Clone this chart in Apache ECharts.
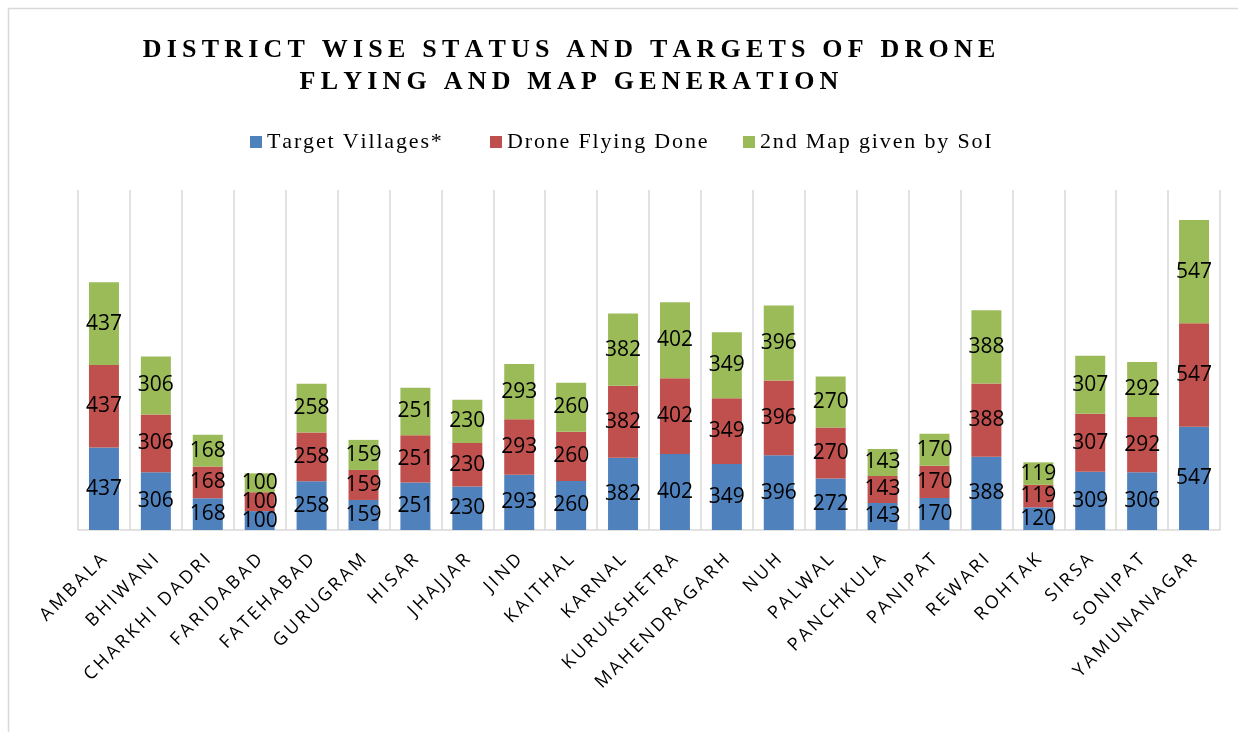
<!DOCTYPE html>
<html>
<head>
<meta charset="utf-8">
<title>District wise status</title>
<script src="https://cdn.jsdelivr.net/npm/echarts@6/dist/echarts.min.js"></script>
<style>
  html, body { margin: 0; padding: 0; background: #fff; }
  #chart { width: 1238px; height: 732px; }
</style>
</head>
<body>
<div id="chart"></div>
<script>
// districts (x axis)
var districts = ['AMBALA', 'BHIWANI', 'CHARKHI DADRI', 'FARIDABAD', 'FATEHABAD', 'GURUGRAM', 'HISAR',
  'JHAJJAR', 'JIND', 'KAITHAL', 'KARNAL', 'KURUKSHETRA', 'MAHENDRAGARH', 'NUH', 'PALWAL',
  'PANCHKULA', 'PANIPAT', 'REWARI', 'ROHTAK', 'SIRSA', 'SONIPAT', 'YAMUNANAGAR'];
var targetVillages = [437, 306, 168, 100, 258, 159, 251, 230, 293, 260, 382, 402, 349, 396, 272, 143, 170, 388, 120, 309, 306, 547];
var droneFlyingDone = [437, 306, 168, 100, 258, 159, 251, 230, 293, 260, 382, 402, 349, 396, 270, 143, 170, 388, 119, 307, 292, 547];
var mapGiven = [437, 306, 168, 100, 258, 159, 251, 230, 293, 260, 382, 402, 349, 396, 270, 143, 170, 388, 119, 307, 292, 547];
var seriesNames = ['Target Villages*', 'Drone Flying Done', '2nd Map given by SoI'];

// spread letters a little (excel text has wide tracking)
function spaced(s, gap) {
  return s.split('').join(gap);
}

var myChart = echarts.init(document.getElementById('chart'));

var labelStyle = {
  show: true,
  position: 'inside',
  color: '#000',
  fontFamily: 'Open Sans',
  fontSize: 21
};

// one legend per item so each can sit where excel put it
var legendLeft = [250, 490, 743];
var legends = seriesNames.map(function (n, i) {
  return {
    top: 131,
    left: legendLeft[i],
    padding: 0,
    itemWidth: 12,
    itemHeight: 12,
    icon: 'rect',
    textStyle: {
      fontFamily: 'Liberation Serif',
      fontSize: 22,
      color: '#000'
    },
    formatter: function (name) { return spaced(name, '\u200A'); },
    data: [n]
  };
});

myChart.setOption({
  animation: false,
  color: ['#4F81BD', '#C0504D', '#9BBB59'],
  title: {
    text: spaced('DISTRICT WISE STATUS AND TARGETS OF DRONE', '\u2009') + '\n' +
      spaced('FLYING AND MAP GENERATION', '\u2009'),
    left: 564,
    top: 29,
    textAlign: 'center',
    textStyle: {
      fontFamily: 'Liberation Serif',
      fontWeight: 'bold',
      fontSize: 26,
      lineHeight: 32,
      color: '#000'
    }
  },
  legend: legends,
  grid: {
    left: 78,
    right: 18,
    top: 190,
    bottom: 202
  },
  xAxis: {
    type: 'category',
    data: districts,
    axisTick: { show: false },
    axisLine: { lineStyle: { color: '#D9D9D9', width: 1.5 } },
    splitLine: { show: true, lineStyle: { color: '#D9D9D9', width: 1.5 } },
    axisLabel: {
      interval: 0,
      rotate: 45,
      margin: 27,
      color: '#000',
      fontFamily: 'Open Sans',
      fontSize: 18,
      formatter: function (v) { return spaced(v, '\u2009'); }
    }
  },
  yAxis: {
    type: 'value',
    min: 0,
    max: 1800,
    show: false,
    splitLine: { show: false }
  },
  series: [
    { name: seriesNames[0], type: 'bar', stack: 'all', barWidth: 30, label: labelStyle, data: targetVillages },
    { name: seriesNames[1], type: 'bar', stack: 'all', barWidth: 30, label: labelStyle, data: droneFlyingDone },
    { name: seriesNames[2], type: 'bar', stack: 'all', barWidth: 30, label: labelStyle, data: mapGiven }
  ],
  graphic: [{
    type: 'rect',
    silent: true,
    shape: { x: 8.5, y: 8.5, width: 1250, height: 750 },
    style: { fill: 'none', stroke: '#D9D9D9', lineWidth: 1.5 }
  }]
});
</script>
</body>
</html>
